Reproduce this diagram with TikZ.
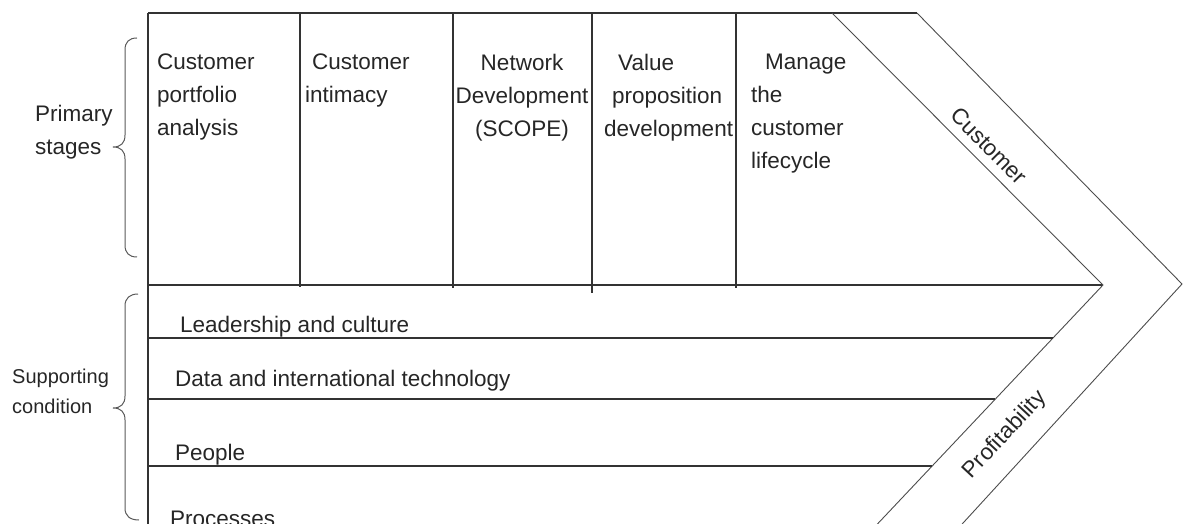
\documentclass[tikz,border=0pt]{standalone}
\usepackage{fontspec}
\setmainfont{Liberation Sans}
\begin{document}
\begin{tikzpicture}[x=1pt,y=-1pt,
  hline/.style={line width=1.6pt, draw=black!80},
  vline/.style={line width=1.4pt, draw=black!80},
  dline/.style={line width=0.9pt, draw=black!70},
  bracestyle/.style={line width=1pt, draw=black!65},
  lbl/.style={font=\fontsize{22.5}{33}\selectfont, inner sep=0pt, text=black!85},
  slbl/.style={font=\fontsize{20}{31}\selectfont, inner sep=0pt, text=black!85},
]
\useasboundingbox (0,0) rectangle (1189,524);

% frame coordinates
\coordinate (TL) at (148,13);
\coordinate (TR) at (917,13);
\coordinate (BL) at (148,534);
\coordinate (ML) at (148,285);
\coordinate (innerTop) at (832,13);
\coordinate (innerTip) at (1103,285);
\coordinate (innerBot) at (868,534);
\coordinate (outerTip) at (1182,284);
\coordinate (outerBot) at (953,534);

% outline
\draw[vline] (TL) -- (BL);
\draw[hline] (TL) -- (TR);
\draw[hline] (ML) -- (innerTip);

% chevron
\draw[dline] (innerTop) -- (innerTip) -- (innerBot);
\draw[dline] (TR) -- (outerTip) -- (outerBot);

% column dividers
\draw[vline] (300,13) -- (300,287);
\draw[vline] (453,13) -- (453,288);
\draw[vline] (592,13) -- (592,293);
\draw[vline] (736,13) -- (736,288);

% supporting rows
\draw[hline] (148,338) -- (1053,338);
\draw[hline] (148,399) -- (995,399);
\draw[hline] (148,466) -- (932,466);

% primary stage texts
\node[lbl, anchor=north west, align=left] (c1) at (157,53.7) {Customer\\portfolio\\analysis};
\node[lbl, anchor=north west, align=left] (c2) at (305,53.7) {\hspace{7pt}Customer\\intimacy};
\node[lbl, anchor=north, align=center] (c3) at (522,53.7) {Network\\Development\\(SCOPE)};
\node[lbl, anchor=north west, align=left] (c4) at (604,53.7) {\hspace{14pt}Value\\\hspace{8pt}proposition\\development};
\node[lbl, anchor=north west, align=left] (c5) at (751,53.7) {\hspace{14pt}Manage\\the\\customer\\lifecycle};

% supporting texts
\node[lbl, anchor=base west] (s1) at (180,332) {Leadership and culture};
\node[lbl, anchor=base west] (s2) at (175,386) {Data and international technology};
\node[lbl, anchor=base west] (s3) at (175,460) {People};
\node[lbl, anchor=base west] (s4) at (170,526) {Processes};

% diagonal labels
\node[lbl, rotate=-45] (cust) at (989,146) {Customer};
\node[lbl, rotate=47] (prof) at (1005,435) {Profitability};

% left labels
\node[lbl, anchor=base west, align=left] (ps1) at (35,122) {Primary};
\node[lbl, anchor=base west] (ps2) at (35,154) {stages};
\node[slbl, anchor=base west] (sc1) at (12,383) {Supporting};
\node[slbl, anchor=base west] (sc2) at (12,413) {condition};

% braces
\draw[bracestyle] (137,38) .. controls (129,38) and (125,42) .. (125,50)
  -- (125,135) .. controls (125,143) and (121,147) .. (113,147)
  .. controls (121,147) and (125,151) .. (125,159)
  -- (125,245) .. controls (125,253) and (129,257) .. (137,257);
\draw[bracestyle] (138,294) .. controls (130,294) and (125,298) .. (125,306)
  -- (125,396) .. controls (125,404) and (121,408) .. (113,408)
  .. controls (121,408) and (125,412) .. (125,420)
  -- (125,508) .. controls (125,516) and (130,520) .. (139,520);
\end{tikzpicture}
\end{document}
